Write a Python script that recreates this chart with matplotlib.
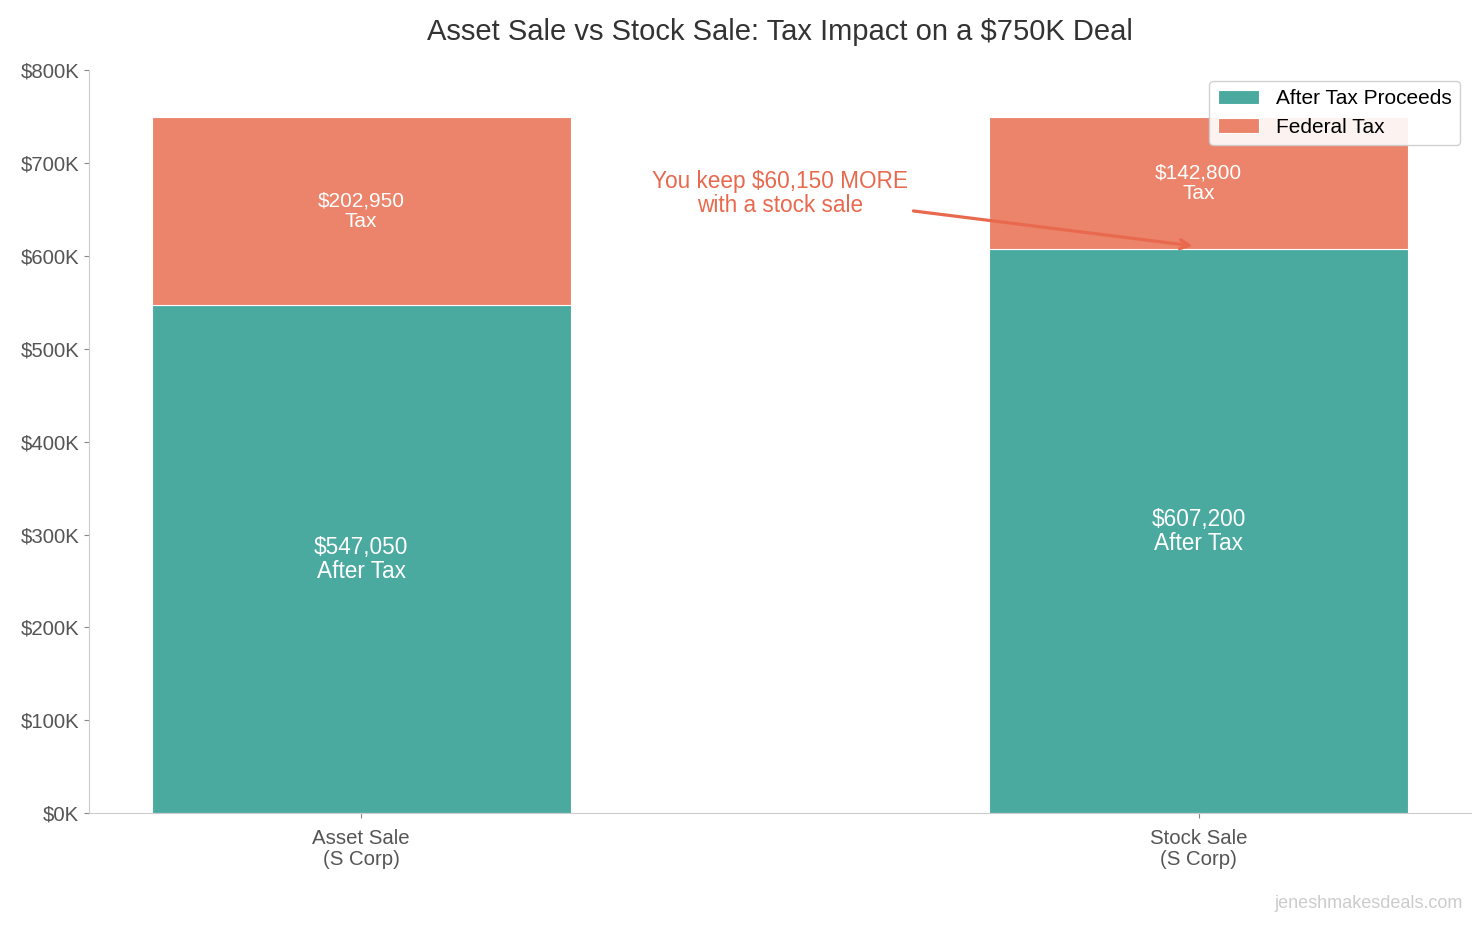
import matplotlib.pyplot as plt
from matplotlib.ticker import FuncFormatter

plt.rcParams["font.family"] = ["Liberation Sans", "DejaVu Sans"]

categories = ["Asset Sale\n(S Corp)", "Stock Sale\n(S Corp)"]
afterTax = [547050, 607200]
federalTax = [202950, 142800]
yTicks = [0, 100000, 200000, 300000, 400000, 500000, 600000, 700000, 800000]

teal = "#4AAA9F"
salmon = "#EB846B"
annotColor = "#E8694E"

fig = plt.figure(figsize=(14.84, 9.26), dpi=100)
ax = fig.add_axes([0.06, 0.122, 0.931, 0.802])

x = list(range(len(categories)))
ax.bar(x, afterTax, width=0.5, color=teal, label="After Tax Proceeds",
       edgecolor="white", linewidth=0.8)
ax.bar(x, federalTax, width=0.5, bottom=afterTax, color=salmon,
       label="Federal Tax", edgecolor="white", linewidth=0.8)

for xi, a, t in zip(x, afterTax, federalTax):
    ax.text(xi, a / 2, f"${a:,.0f}\nAfter Tax", ha="center", va="center",
            color="white", fontsize=16.3, linespacing=1.05)
    ax.text(xi, a + t / 2, f"${t:,.0f}\nTax", ha="center", va="center",
            color="white", fontsize=15, linespacing=1.1)

diff = afterTax[1] - afterTax[0]
ax.annotate(f"You keep ${diff:,.0f} MORE\nwith a stock sale",
            xy=(x[1] - 0.007, 611000), xytext=(0.5, 667000),
            ha="center", va="center", color=annotColor, fontsize=16.3,
            linespacing=1.05,
            arrowprops=dict(arrowstyle="->", color=annotColor, lw=2.3,
                            shrinkA=2, shrinkB=0,
                            relpos=(1.0, 0.15)))

ax.set_ylim(0, 800000)
ax.set_yticks(yTicks)
ax.yaxis.set_major_formatter(FuncFormatter(lambda v, p: f"${v / 1000:.0f}K"))
ax.set_xticks(x)
ax.set_xticklabels(categories, fontsize=14.7, color="#555555", linespacing=1.1)
ax.tick_params(axis="y", labelsize=14.7, labelcolor="#555555", color="#888888")
ax.tick_params(axis="x", color="#888888", pad=8)

for side in ["top", "right"]:
    ax.spines[side].set_visible(False)
for side in ["left", "bottom"]:
    ax.spines[side].set_color("#cccccc")

ax.set_title("Asset Sale vs Stock Sale: Tax Impact on a $750K Deal",
             fontsize=21, color="#333333", pad=22)

ax.legend(loc="upper right", fontsize=15, frameon=True, framealpha=0.9,
          edgecolor="#cccccc", bbox_to_anchor=(1.0, 1.0), labelspacing=0.45)

fig.text(0.986, 0.015, "jeneshmakesdeals.com", ha="right", va="bottom",
         color="#cccccc", fontsize=13)

fig.savefig("out.png", dpi=100)
